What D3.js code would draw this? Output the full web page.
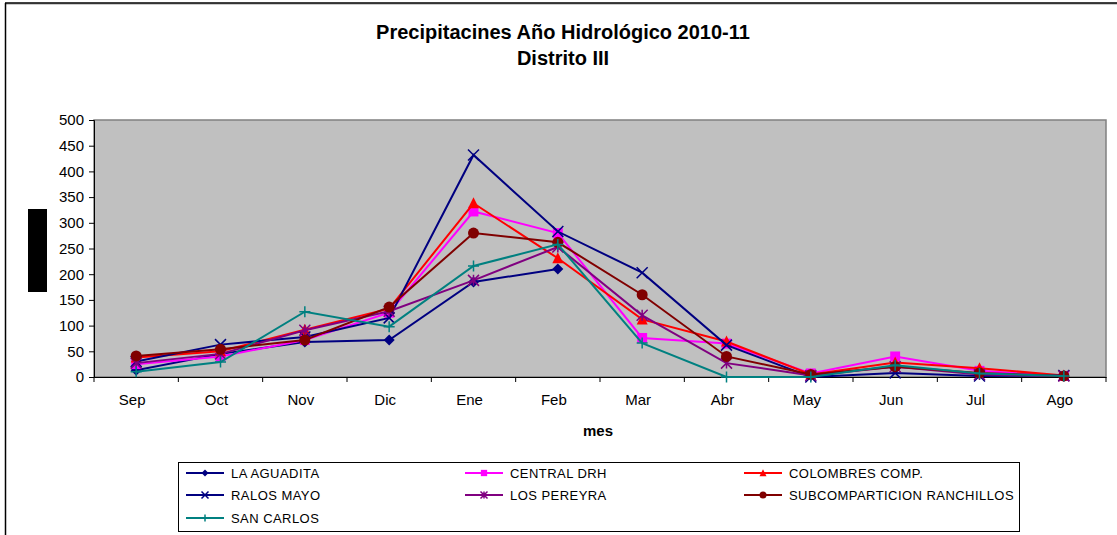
<!DOCTYPE html>
<meta charset="utf-8">
<script src="https://d3js.org/d3.v7.min.js"></script>
<style>
  body { margin: 0; background: #fff; }
  text { font-family: "Liberation Sans", Arial, sans-serif; }
</style>
<body>
<div id="chart"></div>
<script>
// months of the hydrological year
var months = ["Sep", "Oct", "Nov", "Dic", "Ene", "Feb", "Mar", "Abr", "May", "Jun", "Jul", "Ago"];
var yTicks = [0, 50, 100, 150, 200, 250, 300, 350, 400, 450, 500];

// rainfall per station (mm)
var laAguadita   = [13, 45, 68, 72, 185, 210, null, null, null, null, null, null];
var centralDrh   = [25, 40, 72, 125, 322, 280, 76, 65, 7, 40, 12, 2];
var colombres    = [38, 50, 92, 133, 338, 231, 112, 69, 5, 28, 17, 3];
var ralosMayo    = [30, 63, 78, 115, 432, 283, 203, 62, 0, 8, 2, 3];
var losPereyra   = [27, 45, 91, 128, 188, 253, 120, 27, 3, 20, 5, 2];
var subcomp      = [41, 54, 72, 136, 280, 262, 160, 40, 5, 20, 8, 2];
var sanCarlos    = [10, 29, 127, 98, 216, 258, 66, 0, 0, 23, 7, 2];

var series = [
  {name: "LA AGUADITA", values: laAguadita, color: "#000080", marker: "diamond"},
  {name: "CENTRAL DRH", values: centralDrh, color: "#FF00FF", marker: "square"},
  {name: "COLOMBRES COMP.", values: colombres, color: "#FF0000", marker: "triangle"},
  {name: "RALOS MAYO", values: ralosMayo, color: "#000080", marker: "x"},
  {name: "LOS PEREYRA", values: losPereyra, color: "#800080", marker: "star"},
  {name: "SUBCOMPARTICION RANCHILLOS", values: subcomp, color: "#800000", marker: "circle"},
  {name: "SAN CARLOS", values: sanCarlos, color: "#008080", marker: "plus"}
];

var W = 1117, H = 535;
var margin = {top: 120, right: 11, bottom: 158, left: 94},
    width = W - margin.left - margin.right,
    height = H - margin.top - margin.bottom;

var svg = d3.select("#chart").append("svg")
  .attr("width", W).attr("height", H);

// outer chart frame (only top and left edges are visible)
svg.append("line").attr("x1", 5).attr("x2", W).attr("y1", 4).attr("y2", 4)
  .attr("stroke", "#999").attr("stroke-width", 1);
svg.append("line").attr("x1", 5).attr("x2", W).attr("y1", 3).attr("y2", 3)
  .attr("stroke", "#000").attr("stroke-width", 1.5);
svg.append("line").attr("x1", 5.5).attr("x2", 5.5).attr("y1", 3).attr("y2", H)
  .attr("stroke", "#000").attr("stroke-width", 1.5);

// titles
svg.append("text").attr("x", 563).attr("y", 39).attr("text-anchor", "middle")
  .attr("font-size", 20).attr("font-weight", "bold").text("Precipitacines Año Hidrológico 2010-11");
svg.append("text").attr("x", 563).attr("y", 65).attr("text-anchor", "middle")
  .attr("font-size", 20).attr("font-weight", "bold").text("Distrito III");

var g = svg.append("g").attr("transform", "translate(" + margin.left + "," + margin.top + ")");

var x = d3.scaleBand().domain(months).range([0, width]);
var y = d3.scaleLinear().domain([0, 500]).range([height, 0]);

// plot area
g.append("rect").attr("width", width).attr("height", height)
  .attr("fill", "#C0C0C0").attr("stroke", "#808080").attr("stroke-width", 1.5);

// y axis
var yAxis = g.append("g").call(d3.axisLeft(y).tickValues(yTicks).tickSize(5).tickPadding(5));
yAxis.select(".domain").attr("stroke", "#000");
yAxis.selectAll("text").attr("font-size", 15).attr("fill", "#000")
  .attr("font-family", "Liberation Sans, Arial, sans-serif");

// x axis: ticks sit between the categories
var xAxis = g.append("g").attr("transform", "translate(0," + height + ")")
  .call(d3.axisBottom(x).tickSize(0).tickPadding(17));
xAxis.select(".domain").attr("stroke", "#000");
xAxis.selectAll("text").attr("font-size", 15).attr("fill", "#000").attr("dx", -4)
  .attr("font-family", "Liberation Sans, Arial, sans-serif");
xAxis.selectAll(".sep").data(d3.range(months.length + 1)).enter().append("line")
  .attr("x1", function(i) { return i * x.bandwidth(); })
  .attr("x2", function(i) { return i * x.bandwidth(); })
  .attr("y1", 0).attr("y2", 5).attr("stroke", "#000");

// axis titles
svg.append("text").attr("x", margin.left + width / 2 - 2).attr("y", 436)
  .attr("text-anchor", "middle").attr("font-size", 15).attr("font-weight", "bold").text("mes");
svg.append("rect").attr("x", 28).attr("y", 209).attr("width", 19).attr("height", 83).attr("fill", "#000");

// marker drawing
function drawMarker(sel, type, color, s) {
  var h = s / 2;
  if (type === "diamond") {
    sel.append("path").attr("d", "M0," + (-h) + "L" + h + ",0L0," + h + "L" + (-h) + ",0Z").attr("fill", color);
  } else if (type === "square") {
    sel.append("rect").attr("x", -h * 0.9).attr("y", -h * 0.9).attr("width", s * 0.9).attr("height", s * 0.9).attr("fill", color);
  } else if (type === "triangle") {
    sel.append("path").attr("d", "M0," + (-h * 1.1) + "L" + h + "," + (h * 0.9) + "L" + (-h) + "," + (h * 0.9) + "Z").attr("fill", color);
  } else if (type === "circle") {
    sel.append("circle").attr("r", h).attr("fill", color);
  } else if (type === "x") {
    sel.append("path").attr("d", "M" + (-h) + "," + (-h) + "L" + h + "," + h + "M" + h + "," + (-h) + "L" + (-h) + "," + h)
      .attr("stroke", color).attr("stroke-width", 1.5);
  } else if (type === "star") {
    sel.append("path").attr("d", "M" + (-h) + "," + (-h) + "L" + h + "," + h + "M" + h + "," + (-h) + "L" + (-h) + "," + h + "M0," + (-h) + "L0," + h)
      .attr("stroke", color).attr("stroke-width", 1.5);
  } else if (type === "plus") {
    sel.append("path").attr("d", "M" + (-h) + ",0L" + h + ",0M0," + (-h) + "L0," + h)
      .attr("stroke", color).attr("stroke-width", 1.5);
  }
}

var line = d3.line()
  .defined(function(d) { return d != null; })
  .x(function(d, i) { return x(months[i]) + x.bandwidth() / 2; })
  .y(function(d) { return y(d); });

series.forEach(function(s) {
  g.append("path").datum(s.values)
    .attr("fill", "none").attr("stroke", s.color).attr("stroke-width", 2)
    .attr("d", line);
  s.values.forEach(function(v, i) {
    if (v == null) return;
    var m = g.append("g")
      .attr("transform", "translate(" + (x(months[i]) + x.bandwidth() / 2) + "," + y(v) + ")");
    drawMarker(m, s.marker, s.color, 11);
  });
});

// legend
var legend = svg.append("g");
legend.append("rect").attr("x", 178.5).attr("y", 462.5).attr("width", 841).attr("height", 69)
  .attr("fill", "#fff").attr("stroke", "#000").attr("stroke-width", 1);
var colX = [186, 465, 744], rowY = [473, 495, 518];
series.forEach(function(s, i) {
  var cx = colX[i % 3], cy = rowY[Math.floor(i / 3)];
  legend.append("line").attr("x1", cx).attr("x2", cx + 38).attr("y1", cy).attr("y2", cy)
    .attr("stroke", s.color).attr("stroke-width", 2);
  var m = legend.append("g").attr("transform", "translate(" + (cx + 19) + "," + cy + ")");
  drawMarker(m, s.marker, s.color, 7);
  legend.append("text").attr("x", cx + 45).attr("y", cy + 4.5)
    .attr("font-size", 13).attr("letter-spacing", 0.45).text(s.name);
});
</script>
</body>
